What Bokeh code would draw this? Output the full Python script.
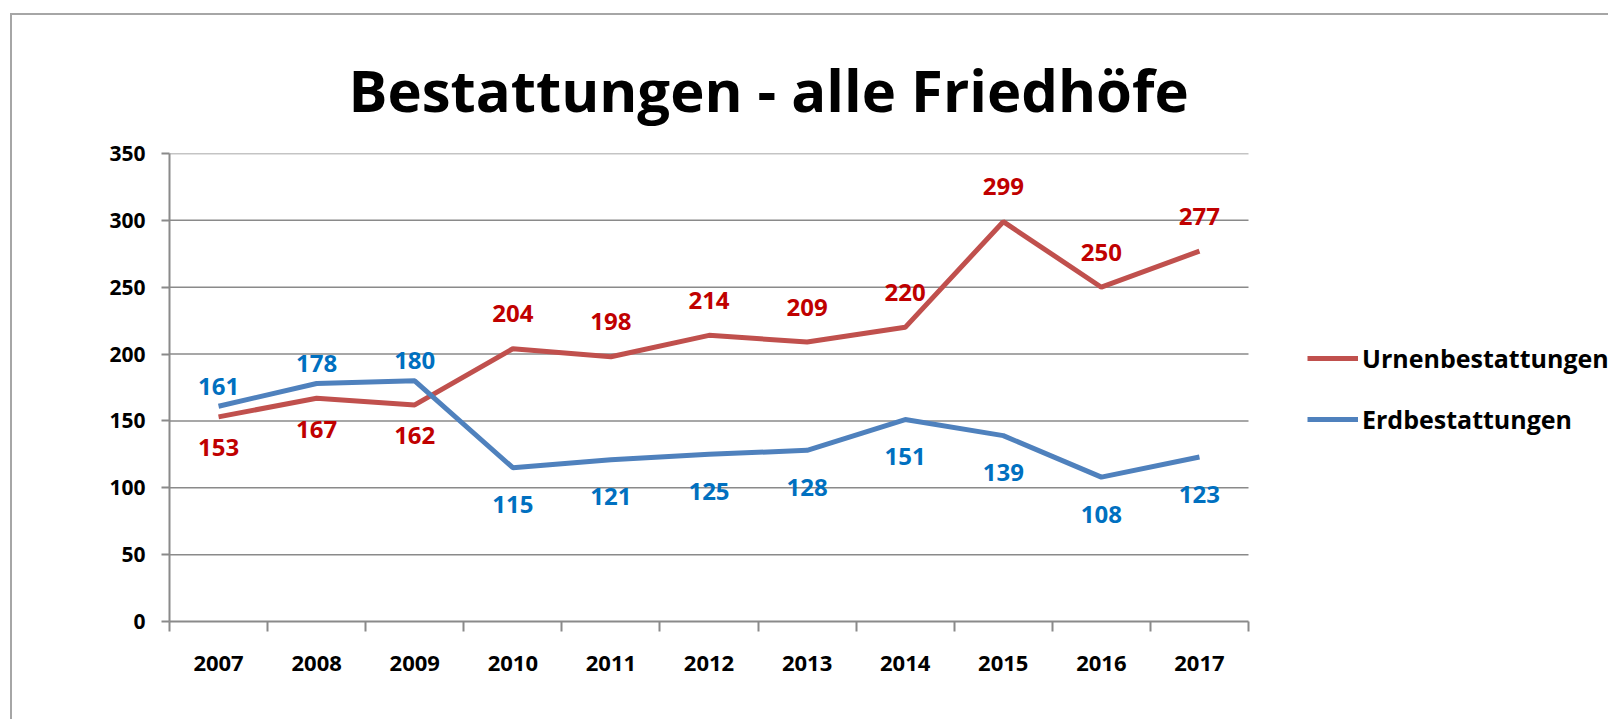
from bokeh.plotting import figure
from bokeh.models import (ColumnDataSource, LabelSet, Legend, LegendItem,
                          Range1d, FixedTicker, Title)
from bokeh.core.properties import value
from bokeh.embed import file_html
from bokeh.resources import INLINE

# ---- data ----
years = [2007, 2008, 2009, 2010, 2011, 2012, 2013, 2014, 2015, 2016, 2017]
urnen = [153, 167, 162, 204, 198, 214, 209, 220, 299, 250, 277]
erd = [161, 178, 180, 115, 121, 125, 128, 151, 139, 108, 123]
urnen_label_side = ["below", "below", "below", "above", "above", "above",
                    "above", "above", "above", "above", "above"]
erd_label_side = ["above", "above", "above", "below", "below", "below",
                  "below", "below", "below", "below", "below"]
y_ticks = [0, 50, 100, 150, 200, 250, 300, 350]
title_text = "Bestattungen - alle Friedhöfe"
series_names = ["Urnenbestattungen", "Erdbestattungen"]

FONT = "Open Sans"
RED_LINE = "#C0504D"
BLUE_LINE = "#4F81BD"
RED_TXT = "#C00000"
BLUE_TXT = "#0070C0"
GRID = "#8a8a8a"

W, H = 1598, 706
x_lo, x_hi = years[0] - 0.5, years[-1] + 0.5
# plot area continues to the right edge so that the legend can sit in it
x_view_end = x_lo + (W - 157) / ((1248 - 169) / len(years))

p = figure(width=W, height=H, output_backend="svg", toolbar_location=None,
           x_range=Range1d(x_lo, x_view_end),
           y_range=Range1d(y_ticks[0], y_ticks[-1]),
           min_border_left=157, min_border_right=0,
           min_border_top=138, min_border_bottom=100)
p.styles = {"margin-left": "10px", "margin-top": "13px",
            "border-left": "2px solid #a6a6a6", "border-top": "2px solid #a6a6a6"}
p.outline_line_color = None
p.background_fill_color = "white"
p.border_fill_color = "white"

# title
p.title = Title(text=title_text, align="left", offset=179, vertical_align="bottom",
                standoff=50, text_font=FONT, text_font_style="bold",
                text_font_size="58px", text_color="black")

# axes
boundaries = [y - 0.5 for y in years] + [years[-1] + 0.5]
p.xaxis.ticker = FixedTicker(ticks=years, minor_ticks=boundaries)
p.xaxis.bounds = (x_lo, x_hi)
p.xaxis.major_label_overrides = {y: str(y) for y in years}
p.xaxis.major_tick_out = 0
p.xaxis.major_tick_in = 0
p.xaxis.minor_tick_out = 10
p.xaxis.minor_tick_in = 0
p.xaxis.minor_tick_line_color = GRID
p.xaxis.minor_tick_line_width = 2
p.xaxis.major_label_standoff = 24
p.xaxis.major_label_text_font_size = "22px"

p.yaxis.ticker = FixedTicker(ticks=y_ticks)
p.yaxis.major_tick_out = 8
p.yaxis.major_tick_in = 0
p.yaxis.minor_tick_out = 0
p.yaxis.minor_tick_in = 0
p.yaxis.major_label_standoff = 16
p.yaxis.major_label_text_font_size = "21px"
p.yaxis.major_tick_line_color = GRID
p.yaxis.major_tick_line_width = 2

for ax in (p.xaxis, p.yaxis):
    ax.axis_line_color = GRID
    ax.axis_line_width = 2
    ax.major_label_text_font = FONT
    ax.major_label_text_font_style = "bold"
    ax.major_label_text_color = "black"

p.xgrid.visible = False
p.ygrid.visible = False
# horizontal gridlines limited to the category area
p.segment(x0=x_lo, x1=x_hi, y0=y_ticks[1:], y1=y_ticks[1:],
          line_color=GRID, line_width=1.5)

# lines
src = ColumnDataSource(dict(
    x=years, urnen=urnen, erd=erd,
    ut=[str(v) for v in urnen], et=[str(v) for v in erd],
    uo=[35 if s == "above" else -31 for s in urnen_label_side],
    eo=[20 if s == "above" else -37 for s in erd_label_side],
))
r_u = p.line("x", "urnen", source=src, line_color=RED_LINE, line_width=5)
r_e = p.line("x", "erd", source=src, line_color=BLUE_LINE, line_width=5)

for ycol, tcol, ocol, col in (("urnen", "ut", "uo", RED_TXT), ("erd", "et", "eo", BLUE_TXT)):
    ls = LabelSet(x="x", y=ycol, text=tcol, y_offset=ocol, source=src,
                  text_align="center", text_baseline="middle",
                  text_font=value(FONT), text_font_style="bold", text_font_size="24px",
                  text_color=col)
    p.add_layout(ls)

# legend, right of the category area
legend = Legend(items=[LegendItem(label=series_names[0], renderers=[r_u]),
                       LegendItem(label=series_names[1], renderers=[r_e])],
                location=(1138, 182), orientation="vertical",
                glyph_width=51, glyph_height=40, label_height=40,
                label_standoff=4, spacing=21, padding=0, margin=0,
                label_text_font=FONT, label_text_font_style="bold",
                label_text_font_size="25px", label_text_color="black",
                background_fill_alpha=0, border_line_color=None)
p.add_layout(legend)

open("out.html", "w").write(file_html(p, INLINE))
